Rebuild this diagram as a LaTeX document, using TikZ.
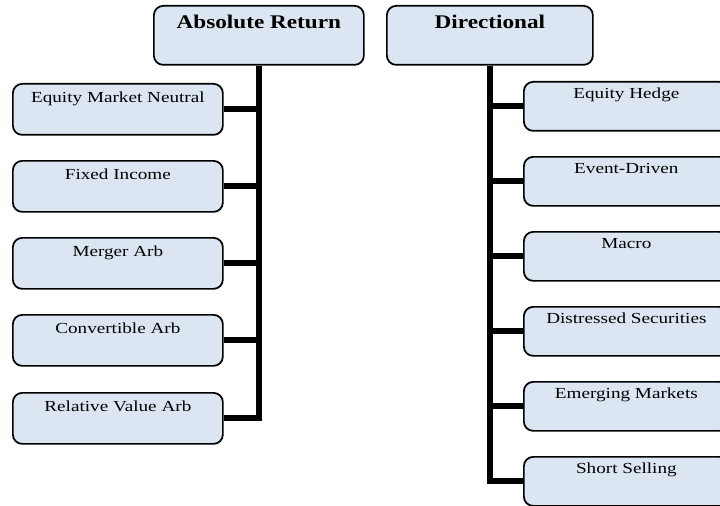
\documentclass[tikz,border=0pt]{standalone}
\usepackage{fontspec}
\setmainfont{Liberation Serif}
\newfontfamily\regf[FakeStretch=1.25]{Liberation Serif}
\newfontfamily\boldf[FakeStretch=1.2]{Liberation Serif}
\usetikzlibrary{backgrounds}
\definecolor{boxfill}{RGB}{220,230,242}
\begin{document}
\begin{tikzpicture}[x=0.75pt,y=-0.75pt,
  basebox/.style={draw=black, line width=1.3pt, fill=boxfill, rounded corners=7pt,
    inner sep=0pt, anchor=north west},
  lbox/.style={basebox, minimum width=157.5pt, minimum height=38.25pt,
    text height=14.25pt, text depth=24pt, font=\regf\fontsize{11.5}{13}\selectfont},
  rbox/.style={basebox, minimum width=153.75pt, minimum height=36.75pt,
    text height=12.75pt, text depth=24pt, font=\regf\fontsize{11.5}{13}\selectfont},
  tbox/.style={basebox, minimum height=44.25pt,
    text height=17.25pt, text depth=27pt, font=\boldf\bfseries\fontsize{14.5}{16}\selectfont},
  conn/.style={line width=4.5pt, line join=miter}]
\useasboundingbox (0,0) rectangle (720,506);
\clip (0,0) rectangle (720,506);

\node[tbox, minimum width=157.5pt] (ar) at (153,5) {Absolute Return};
\node[tbox, minimum width=154.5pt] (dir) at (386,5) {Directional};

\node[lbox] (emn) at (12,83) {Equity Market Neutral};
\node[lbox] (fi) at (12,160) {Fixed Income};
\node[lbox] (ma) at (12,237) {Merger Arb};
\node[lbox] (ca) at (12,314) {Convertible Arb};
\node[lbox] (rva) at (12,392) {Relative Value Arb};

\node[rbox] (eh) at (523,81) {Equity Hedge};
\node[rbox] (ed) at (523,156) {Event-Driven};
\node[rbox] (mac) at (523,231) {Macro};
\node[rbox] (ds) at (523,306) {Distressed Securities};
\node[rbox] (em) at (523,381) {Emerging Markets};
\node[rbox] (ss) at (523,456) {Short Selling};

\begin{scope}[on background layer]
\draw[conn] (ar.south) |- (rva.east);
\foreach \n in {emn,fi,ma,ca}{\draw[conn] (\n.east) -- (\n.east -| ar.south);}
\draw[conn] (dir.south) |- (ss.west);
\foreach \n in {eh,ed,mac,ds,em}{\draw[conn] (\n.west) -- (\n.west -| dir.south);}
\end{scope}
\end{tikzpicture}
\end{document}
